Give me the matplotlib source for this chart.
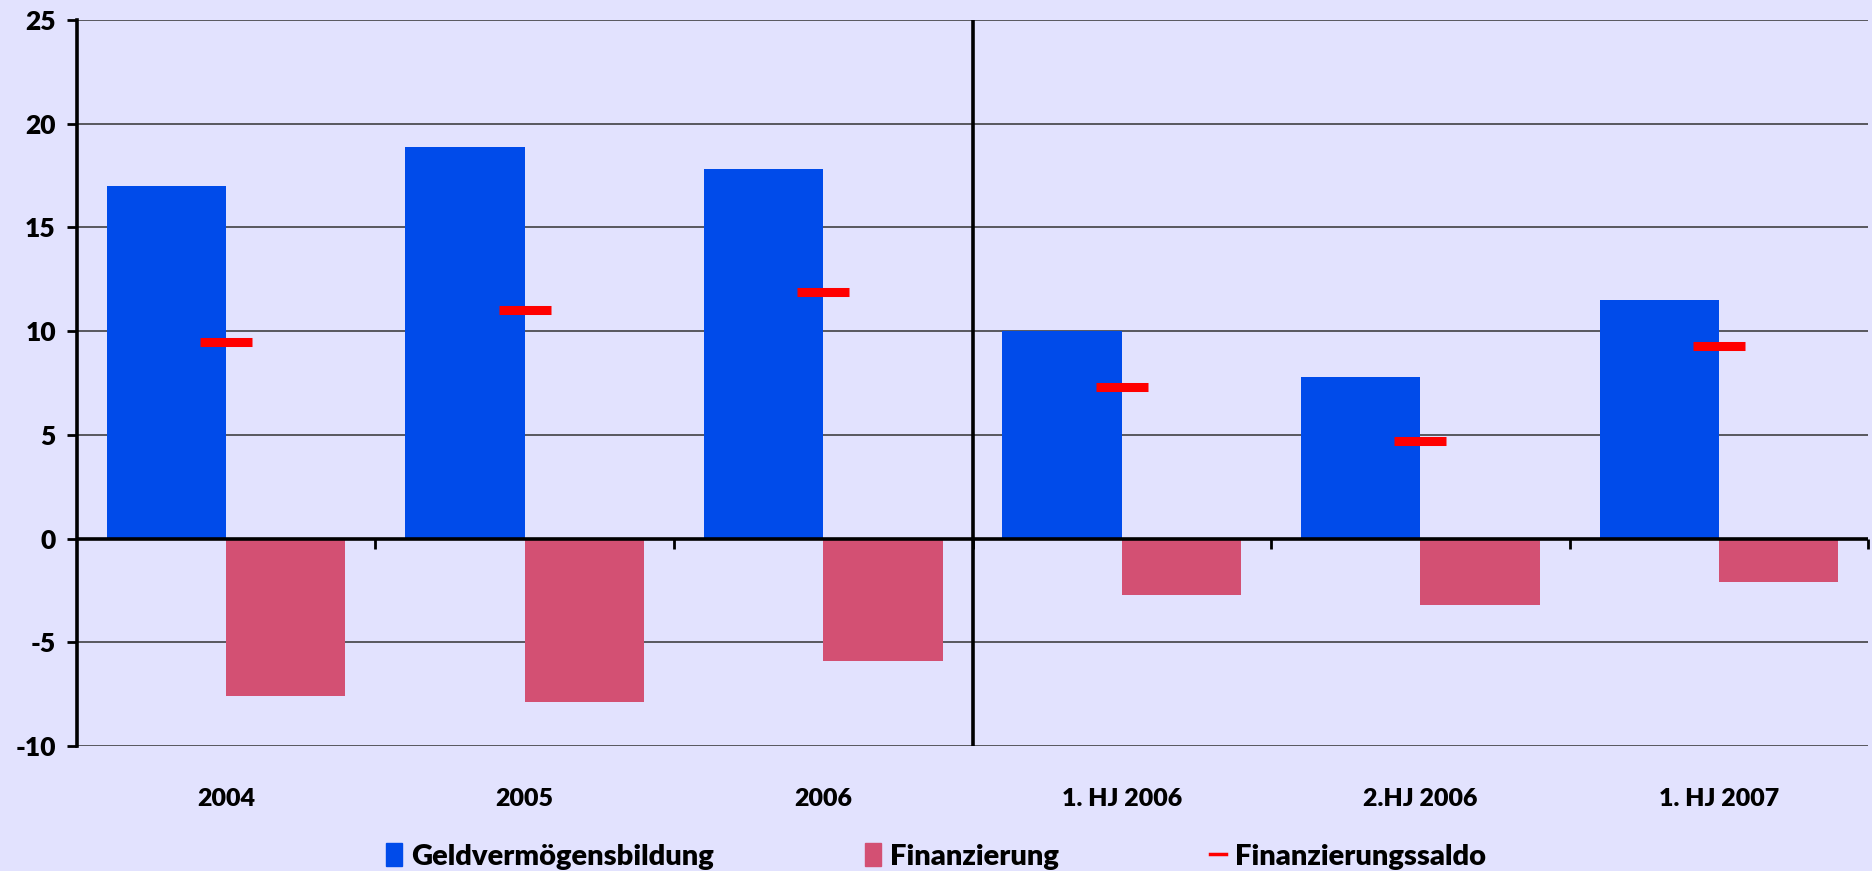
import numpy as np
import matplotlib.pyplot as plt
import matplotlib.patches as mpatches
from matplotlib.lines import Line2D

categories = ['2004', '2005', '2006', '1. HJ 2006', '2.HJ 2006', '1. HJ 2007']
geldvermoegen = [17.0, 18.9, 17.8, 10.0, 7.8, 11.5]
finanzierung = [-7.6, -7.9, -5.9, -2.7, -3.2, -2.1]
saldo = [9.5, 11.0, 11.9, 7.3, 4.7, 9.3]
y_ticks = [-10, -5, 0, 5, 10, 15, 20, 25]

bg = '#E2E2FE'
blue = '#004BEA'
pink = '#D35073'
red = '#FF0000'

plt.rcParams['font.family'] = ['Lato', 'DejaVu Sans']
fw = 'heavy'

fig = plt.figure(figsize=(18.72, 8.71), dpi=100, facecolor=bg)
ax = fig.add_axes([0.041, 0.1435, 0.957, 0.8335])
ax.set_facecolor(bg)

x = np.arange(len(categories))
w = 0.4
ax.bar(x - w / 2, geldvermoegen, width=w, color=blue, zorder=2)
ax.bar(x + w / 2, finanzierung, width=w, color=pink, zorder=2)
ax.plot(x, saldo, linestyle='none', marker='_', markersize=38, mew=6.5, color=red, zorder=3)

ax.set_xlim(-0.5, len(categories) - 0.5)
ax.set_ylim(-10, 25)
ax.set_yticks(y_ticks)
ax.set_yticklabels([str(t) for t in y_ticks], fontsize=19, fontweight=fw)
ax.tick_params(axis='y', direction='out', length=7, width=2, pad=8)
for t in y_ticks:
    ax.axhline(t, color='#333333', lw=1.1, zorder=1)
ax.axhline(0, color='black', lw=2.6, zorder=4)
ax.axvline(2.5, color='black', lw=2.6, zorder=4)

for s in ['top', 'right']:
    ax.spines[s].set_visible(False)
ax.spines['left'].set_linewidth(2.6)
ax.spines['bottom'].set_position(('data', 0))
ax.spines['bottom'].set_visible(False)

# boundary ticks on the zero line
ax.set_xticks(np.arange(0.5, len(categories) - 0.4, 1.0))
ax.set_xticklabels([])
ax.tick_params(axis='x', direction='out', length=7, width=2)

# category labels below the plot
sec = ax.secondary_xaxis(0.0)
sec.set_xticks(x)
sec.set_xticklabels(categories, fontsize=18, fontweight=fw)
sec.tick_params(length=0, pad=30)
sec.spines['bottom'].set_visible(False)

handles = [
    mpatches.Patch(color=blue, label='Geldvermögensbildung'),
    mpatches.Patch(color=pink, label='Finanzierung'),
    Line2D([0], [0], color=red, lw=2.5, label='Finanzierungssaldo'),
]
fig.legend(handles=handles, loc='center', bbox_to_anchor=(0.5, 0.017), ncol=3,
           frameon=False, handlelength=0.55, handleheight=0.85,
           handletextpad=0.3, columnspacing=5.2, prop={'weight': fw, 'size': 21})

fig.savefig('out.png', dpi=100, facecolor=bg)
